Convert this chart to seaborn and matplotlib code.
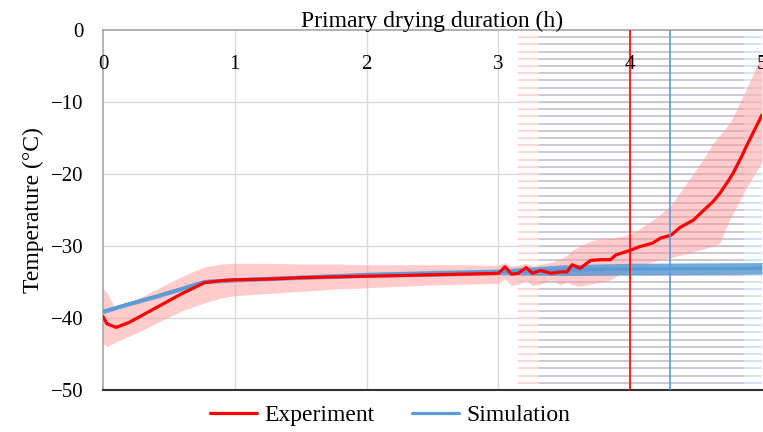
import numpy as np
import matplotlib
matplotlib.use("Agg")
import matplotlib.pyplot as plt
import seaborn as sns
import pandas as pd

# Experiment: mean product temperature and its spread
exp_time = [0, 0.03, 0.1, 0.2, 0.3, 0.45, 0.6, 0.77, 0.9, 1.0, 1.25, 1.5, 1.75, 2.0,
            2.25, 2.5, 2.75, 3.0, 3.05, 3.1, 3.15, 3.21, 3.26, 3.32, 3.4, 3.47, 3.52,
            3.56, 3.62, 3.7, 3.78, 3.85, 3.89, 4.0, 4.07, 4.17, 4.23, 4.31, 4.38, 4.48,
            4.56, 4.63, 4.68, 4.75, 4.78, 4.85, 4.88, 4.94, 5.0]
exp_temp = [-39.8, -40.8, -41.3, -40.6, -39.6, -38.1, -36.6, -35.1, -34.8, -34.7, -34.6,
            -34.4, -34.3, -34.2, -34.1, -34.0, -33.9, -33.8, -32.9, -33.9, -33.8, -33.0,
            -33.8, -33.4, -33.8, -33.6, -33.6, -32.6, -33.1, -32.0, -31.9, -31.9, -31.25,
            -30.6, -30.1, -29.6, -28.9, -28.5, -27.4, -26.4, -25.0, -23.8, -22.7, -20.8,
            -19.9, -17.4, -16.2, -14.0, -11.8]
exp_high = [-35.8, -36.5, -38.9, -38.0, -37.0, -35.6, -34.2, -32.9, -32.5, -32.4, -32.4,
            -32.5, -32.5, -32.6, -32.6, -32.6, -32.6, -32.7, -32.3, -32.8, -32.7, -32.4,
            -32.8, -32.5, -32.3, -31.8, -31.3, -30.6, -30.0, -29.3, -29.0, -28.9, -28.8,
            -28.4, -27.6, -26.4, -25.6, -24.3, -22.5, -19.9, -17.8, -15.7, -14.6, -13.0,
            -12.1, -9.4, -8.2, -5.8, -3.5]
exp_low = [-43.5, -44.0, -43.3, -42.5, -41.7, -40.3, -39.0, -37.9, -37.2, -36.9, -36.6,
           -36.3, -36.0, -35.8, -35.6, -35.4, -35.3, -35.2, -34.6, -35.5, -35.3, -34.8,
           -35.5, -35.3, -34.7, -35.4, -35.0, -35.4, -35.6, -35.3, -35.0, -34.7, -34.3,
           -33.0, -32.6, -32.2, -31.9, -31.6, -31.3, -30.8, -30.4, -30.0, -29.6, -26.5,
           -25.5, -23.0, -22.0, -20.2, -18.3]

# Simulation
sim_time = [0, 0.2, 0.4, 0.6, 0.77, 1.0, 1.5, 2.0, 2.5, 3.0, 3.3, 3.5, 4.0, 4.5, 5.0]
sim_temp = [-39.1, -38.0, -37.0, -35.9, -34.95, -34.7, -34.35, -34.0, -33.8, -33.6,
            -33.45, -33.35, -33.2, -33.15, -33.1]
sim_err = [0.3, 0.3, 0.3, 0.3, 0.3, 0.3, 0.3, 0.35, 0.4, 0.4, 0.6, 0.75, 0.8, 0.8, 0.8]

# end of primary drying markers
exp_end = 4.0
sim_end = 4.3

exp_df = pd.DataFrame({"t": exp_time, "T": exp_temp})
sim_df = pd.DataFrame({"t": sim_time, "T": sim_temp})

sns.set_theme(style="white")
plt.rcParams["font.family"] = ["Liberation Serif", "DejaVu Serif"]
plt.rcParams["text.color"] = "black"
plt.rcParams["axes.labelcolor"] = "black"

fig = plt.figure(figsize=(7.63, 4.32), dpi=100)
ax = fig.add_axes([103 / 763, 1 - 390 / 432, 659 / 763, 360 / 432])

red = "#ff0000"
blue = "#5b9bd5"

# horizontal stripe artefacts of the error bars on the right
levels = np.arange(-49, 0)
ax.hlines(levels, 3.15, 3.31, color="#ffd3d3", lw=1.3, zorder=1)
ax.hlines(levels, 3.31, 4.86, color="#c9c2d4", lw=1.3, zorder=1)
ax.hlines(levels, 4.86, 5.0, color="#cfe1f3", lw=1.3, zorder=1)

ax.fill_between(exp_time, exp_low, exp_high, color="#ff9999", alpha=0.5, lw=0, zorder=2)
sim_lo = np.array(sim_temp) - np.array(sim_err)
sim_hi = np.array(sim_temp) + np.array(sim_err)
ax.fill_between(sim_time, sim_lo, sim_hi, color=blue, alpha=0.85, lw=0, zorder=3)

sns.lineplot(data=exp_df, x="t", y="T", ax=ax, color=red, lw=2.3, label="Experiment",
             zorder=5)
sns.lineplot(data=sim_df, x="t", y="T", ax=ax, color=blue, lw=2.3, label="Simulation",
             zorder=4)

ax.axvline(exp_end, color=red, lw=1.2, zorder=6)
ax.axvline(sim_end, color=blue, lw=1.2, zorder=6)

ax.set_xlim(0, 5)
ax.set_ylim(-50, 0)
ax.set_xticks(range(0, 6))
ax.set_yticks(range(-50, 1, 10))

# gridlines drawn by hand so the x tick labels can sit above the marker lines
ax.grid(False)
ax.vlines(ax.get_xticks()[1:], -50, 0, color="#d9d9d9", lw=1.0, zorder=0.3)
ax.hlines(ax.get_yticks()[1:-1], 0, 5, color="#d9d9d9", lw=1.0, zorder=0.3)
ax.xaxis.set_zorder(10)

ax.tick_params(axis="x", top=True, bottom=False, labeltop=True, labelbottom=False,
               length=0, pad=-32, labelsize=15, labelcolor="black")
ax.tick_params(axis="y", length=0, pad=14, labelsize=15, labelcolor="black")

for s in ["top", "left"]:
    ax.spines[s].set_color("#a6a6a6")
    ax.spines[s].set_linewidth(1.2)
ax.spines["bottom"].set_color("#333333")
ax.spines["bottom"].set_linewidth(1.5)
ax.spines["right"].set_visible(False)

ax.set_xlabel("Primary drying duration (h)", fontsize=17)
ax.xaxis.set_label_position("top")
ax.xaxis.set_label_coords(0.5, 1.008)
ax.set_ylabel("Temperature (°C)", fontsize=17)
ax.yaxis.set_label_coords(-0.09, 0.5)

ax.get_legend().remove()
handles, labels = ax.get_legend_handles_labels()
fig.legend(handles, labels, loc="center", bbox_to_anchor=(0.511, 0.038), ncol=2,
           frameon=False, fontsize=17, handlelength=2.0, handletextpad=0.3,
           columnspacing=1.6)

fig.savefig("out.png", dpi=100)
